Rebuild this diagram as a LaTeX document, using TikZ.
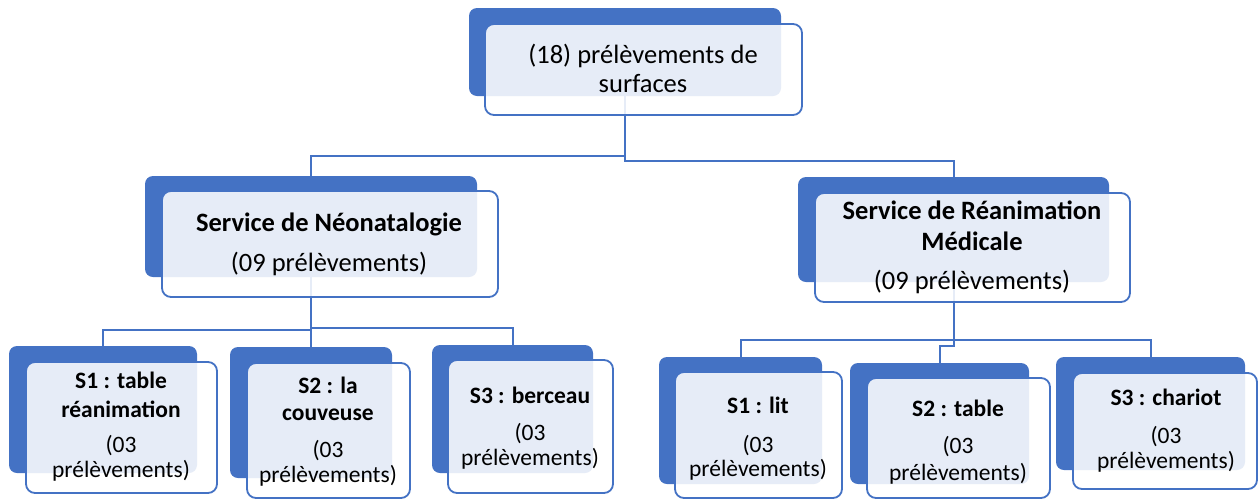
\documentclass[tikz,border=0pt]{standalone}
\usepackage{fontspec}
\setmainfont{Carlito}
\usetikzlibrary{backgrounds}
\definecolor{obl}{HTML}{4472C4}
\tikzset{
 backbox/.style={rectangle, rounded corners=8pt, fill=obl, draw=none, inner sep=0pt, outer sep=0pt},
 frontbox/.style={rectangle, rounded corners=9pt, draw=obl, line width=1.8pt, fill=white, fill opacity=0.87, inner sep=0pt, outer sep=0pt},
 conn/.style={draw=obl, line width=2pt},
 txt/.style={anchor=base, inner sep=0pt, text=black},
 bigt/.style={font=\fontsize{26.5}{30}\selectfont},
 bigb/.style={font=\fontsize{26.5}{30}\selectfont\bfseries},
 smt/.style={font=\fontsize{23.5}{27}\selectfont},
 smb/.style={font=\fontsize{23.5}{27}\selectfont\bfseries},
}
\newcommand{\orgbox}[9]{%
 \node[backbox, minimum width={(#4-#2)*1pt}, minimum height={(#5-#3)*1pt}] (#1b) at ({(#2+#4)/2},{(#3+#5)/2}) {};
 \node[frontbox, minimum width={(#8-#6)*1pt}, minimum height={(#9-#7)*1pt}] (#1f) at ({(#6+#8)/2},{(#7+#9)/2}) {};
}
\begin{document}
\begin{tikzpicture}[x=1pt,y=-1pt]
\useasboundingbox (0,0) rectangle (1259,499);
% boxes
\orgbox{top}{469}{8}{781}{96}{485}{24}{802}{115}
\orgbox{lm}{145}{176}{477}{277}{162}{191}{498}{297}
\orgbox{rm}{798}{177}{1109}{282}{815}{193}{1130}{302}
\orgbox{la}{9}{346}{197}{473}{26}{362}{217}{493}
\orgbox{lb}{230}{347}{392}{478}{247}{363}{410}{498}
\orgbox{lc}{432}{345}{593}{473}{448}{360}{613}{493}
\orgbox{ra}{659}{357}{822}{484}{675}{372}{842}{498}
\orgbox{rb}{850}{363}{1029}{484}{867}{378}{1050}{498}
\orgbox{rc}{1056}{357}{1245}{470}{1073}{373}{1257}{489}
% texts
\node[txt,bigt] (t1) at (643,63) {(18) prélèvements de};
\node[txt,bigt] (t2) at (643,92) {surfaces};
\node[txt,bigb] (lm1) at (329,231) {Service de Néonatalogie};
\node[txt,bigt] (lm2) at (329,271) {(09 prélèvements)};
\node[txt,bigb] (rm1) at (972,219) {Service de Réanimation};
\node[txt,bigb] (rm2) at (972,250) {Médicale};
\node[txt,bigt] (rm3) at (972,289) {(09 prélèvements)};
\node[txt,smb] (la1) at (121,388) {S1 : table};
\node[txt,smb] (la2) at (121,417) {réanimation};
\node[txt,smt] (la3) at (121,452) {(03};
\node[txt,smt] (la4) at (121,477) {prélèvements)};
\node[txt,smb] (lb1) at (328,393) {S2 : la};
\node[txt,smb] (lb2) at (328,420) {couveuse};
\node[txt,smt] (lb3) at (328,457) {(03};
\node[txt,smt] (lb4) at (328,482) {prélèvements)};
\node[txt,smb] (lc1) at (530,403) {S3 : berceau};
\node[txt,smt] (lc2) at (530,440) {(03};
\node[txt,smt] (lc3) at (530,465) {prélèvements)};
\node[txt,smb] (ra1) at (758,413) {S1 : lit};
\node[txt,smt] (ra2) at (758,452) {(03};
\node[txt,smt] (ra3) at (758,476) {prélèvements)};
\node[txt,smb] (rb1) at (958,416) {S2 : table};
\node[txt,smt] (rb2) at (958,453) {(03};
\node[txt,smt] (rb3) at (958,480) {prélèvements)};
\node[txt,smb] (rc1) at (1166,405) {S3 : chariot};
\node[txt,smt] (rc2) at (1166,443) {(03};
\node[txt,smt] (rc3) at (1166,468) {prélèvements)};
% connectors
\coordinate (busTR) at (0,161);
\coordinate (busTL) at (0,156);
\coordinate (busLL) at (0,330);
\coordinate (busLR) at (0,328);
\coordinate (busR) at (0,340);
\coordinate (busRJ) at (0,346);
\begin{pgfonlayer}{background}
\draw[conn] (topb.south) -- (topb.south |- busTR) -| (rmb.north);
\draw[conn] (topb.south |- busTL) -| (lmb.north);
\draw[conn] (lmb.south) -- (lbb.north);
\draw[conn] (lmb.south |- busLL) -| (lab.north);
\draw[conn] (lmb.south |- busLR) -| (lcb.north);
\draw[conn] (rmb.south) -- (rmb.south |- busRJ) -| (rbb.north);
\draw[conn] (rmb.south |- busR) -| (rab.north);
\draw[conn] (rmb.south |- busR) -| (rcb.north);
\end{pgfonlayer}
\end{tikzpicture}
\end{document}
